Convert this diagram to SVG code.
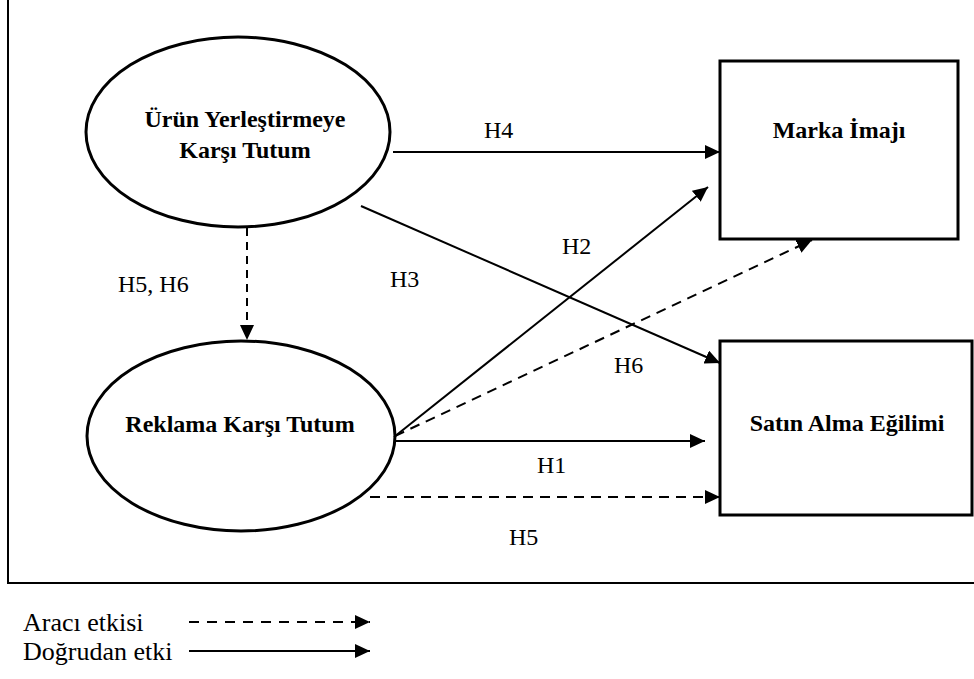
<svg xmlns="http://www.w3.org/2000/svg" width="974" height="679" viewBox="0 0 974 679">
<defs>
<marker id="ah" markerUnits="userSpaceOnUse" markerWidth="15" markerHeight="14" refX="15" refY="7" orient="auto" viewBox="0 0 15 14">
<path d="M0,0 L15,7 L0,14 Z" fill="#000"/>
</marker>
</defs>
<style>
.node{fill:#fff;stroke:#000;stroke-width:3}
.nt{font-family:"Liberation Serif","Times New Roman",serif;font-weight:bold;font-size:24px;fill:#000;text-anchor:middle}
.lb{font-family:"Liberation Serif","Times New Roman",serif;font-size:24px;fill:#000}
.lg{font-family:"Liberation Serif","Times New Roman",serif;font-size:26px;fill:#000}
.c{fill:none;stroke:#000;stroke-width:2;marker-end:url(#ah)}
.d{stroke-dasharray:10 7}
</style>
<rect width="974" height="679" fill="#fff"/>
<path d="M8,-5 V583 H980" fill="none" stroke="#000" stroke-width="2"/>
<g id="n-urun">
<ellipse class="node" cx="238" cy="132" rx="152" ry="95"/>
<text class="nt" x="245" y="127">Ürün Yerleştirmeye</text>
<text class="nt" x="245" y="158">Karşı Tutum</text>
</g>
<g id="n-reklam">
<ellipse class="node" cx="241" cy="436" rx="154" ry="95"/>
<text class="nt" x="240" y="432">Reklama Karşı Tutum</text>
</g>
<g id="n-marka">
<rect class="node" x="720" y="61" width="238" height="178"/>
<text class="nt" x="839" y="138">Marka İmajı</text>
</g>
<g id="n-satin">
<rect class="node" x="720" y="341" width="252" height="174"/>
<text class="nt" x="847" y="431">Satın Alma Eğilimi</text>
</g>
<g id="connectors">
<line class="c" x1="393" y1="152" x2="720" y2="152"/>
<line class="c" x1="361" y1="206" x2="720" y2="363"/>
<line class="c" x1="394" y1="437" x2="708" y2="187"/>
<line class="c d" x1="395" y1="436" x2="812" y2="240"/>
<line class="c" x1="394" y1="441" x2="705" y2="441"/>
<line class="c d" x1="370" y1="497" x2="720" y2="497"/>
<line class="c d" x1="247" y1="228" x2="247" y2="340" style="stroke-dasharray:8 6"/>
</g>
<g id="labels">
<text class="lb" x="484" y="138">H4</text>
<text class="lb" x="562" y="254">H2</text>
<text class="lb" x="390" y="287">H3</text>
<text class="lb" x="118" y="292">H5, H6</text>
<text class="lb" x="614" y="373">H6</text>
<text class="lb" x="537" y="473">H1</text>
<text class="lb" x="509" y="545">H5</text>
</g>
<g id="legend">
<text class="lg" x="23" y="631">Aracı etkisi</text>
<text class="lg" x="23" y="660">Doğrudan etki</text>
<line class="c" x1="189" y1="622" x2="370" y2="622" style="stroke-dasharray:10 8"/>
<line class="c" x1="189" y1="651" x2="370" y2="651"/>
</g>
</svg>
